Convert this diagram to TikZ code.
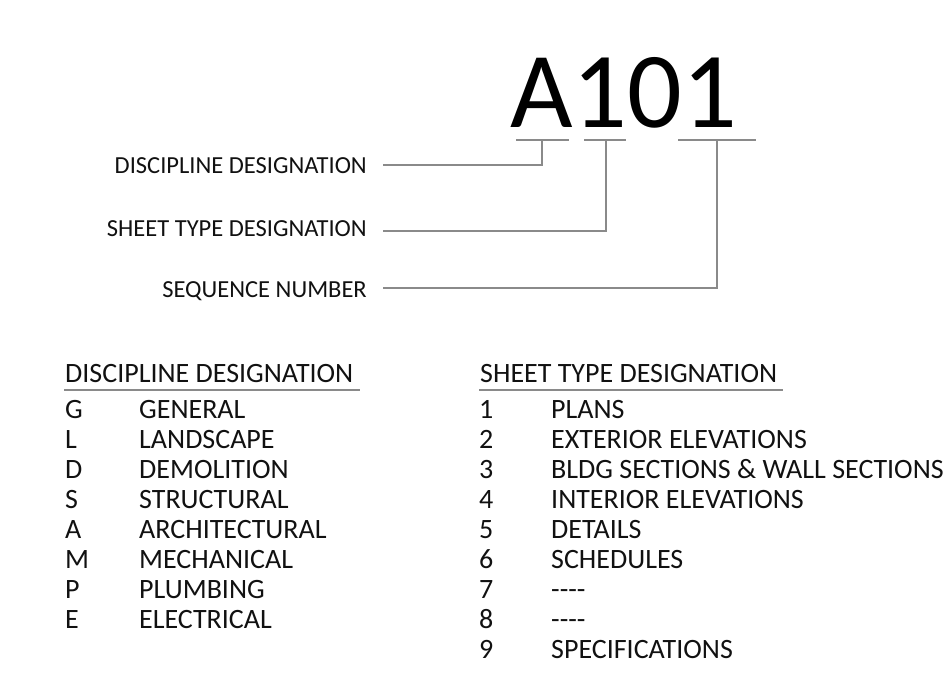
\documentclass[tikz,border=0pt]{standalone}
\usepackage{fontspec}
\setmainfont{Carlito}[Ligatures=TeXOff]
\definecolor{ink}{HTML}{111111}
\definecolor{rule}{HTML}{8A8A8A}
\begin{document}
\begin{tikzpicture}[x=1pt,y=-1pt,
  big/.style={inner sep=0pt,anchor=base west,text=black,font=\fontsize{108}{110}\selectfont},
  lbl/.style={inner sep=0pt,anchor=base east,text=ink,font=\fontsize{24.5}{26}\selectfont},
  txt/.style={inner sep=0pt,anchor=base west,text=ink,font=\fontsize{28}{30}\selectfont},
  bar/.style={draw=rule,line width=2pt},
  conn/.style={draw=rule,line width=1.3pt},
  hrule/.style={draw=rule,line width=1.5pt}]
\useasboundingbox (0,0) rectangle (948,675);
% big code
\node[big] (code) at (510,127) {A101};
% bars under the characters
\coordinate (b1l) at (516,140); \coordinate (b1r) at (569,140); \coordinate (b1) at (542,140);
\coordinate (b2l) at (584,140); \coordinate (b2r) at (626,140); \coordinate (b2) at (606,140);
\coordinate (b3l) at (678,140); \coordinate (b3r) at (756,140); \coordinate (b3) at (717,140);
\draw[bar] (b1l) -- (b1r);
\draw[bar] (b2l) -- (b2r);
\draw[bar] (b3l) -- (b3r);
% labels
\node[lbl] (l1) at (367,173) {DISCIPLINE DESIGNATION};
\node[lbl] (l2) at (367,236) {SHEET TYPE DESIGNATION};
\node[lbl] (l3) at (367,297) {SEQUENCE NUMBER};
\coordinate (h1) at (383,165);
\coordinate (h2) at (383,231);
\coordinate (h3) at (383,288);
\draw[conn] (h1) -| (b1);
\draw[conn] (h2) -| (b2);
\draw[conn] (h3) -| (b3);
% left table
\node[txt] (dh) at (65,382) {DISCIPLINE DESIGNATION};
\coordinate (dul) at (64,390); \coordinate (dur) at (360,390);
\draw[hrule] (dul) -- (dur);
\foreach \k/\n [count=\i from 0] in {G/GENERAL,L/LANDSCAPE,D/DEMOLITION,S/STRUCTURAL,A/ARCHITECTURAL,M/MECHANICAL,P/PLUMBING,E/ELECTRICAL}{
  \node[txt] (dk\i) at (65,418+30*\i) {\k};
  \node[txt] (dn\i) at (139,418+30*\i) {\n};
}
% right table
\node[txt] (sh) at (480,382) {SHEET TYPE DESIGNATION};
\coordinate (sul) at (479,390); \coordinate (sur) at (783,390);
\draw[hrule] (sul) -- (sur);
\foreach \k/\n [count=\i from 0] in {1/PLANS,2/EXTERIOR ELEVATIONS,3/BLDG SECTIONS \& WALL SECTIONS,4/INTERIOR ELEVATIONS,5/DETAILS,6/SCHEDULES,7/----,8/----,9/SPECIFICATIONS}{
  \node[txt] (sk\i) at (479,418+30*\i) {\k};
  \node[txt] (sn\i) at (551,418+30*\i) {\n};
}
\end{tikzpicture}
\end{document}
